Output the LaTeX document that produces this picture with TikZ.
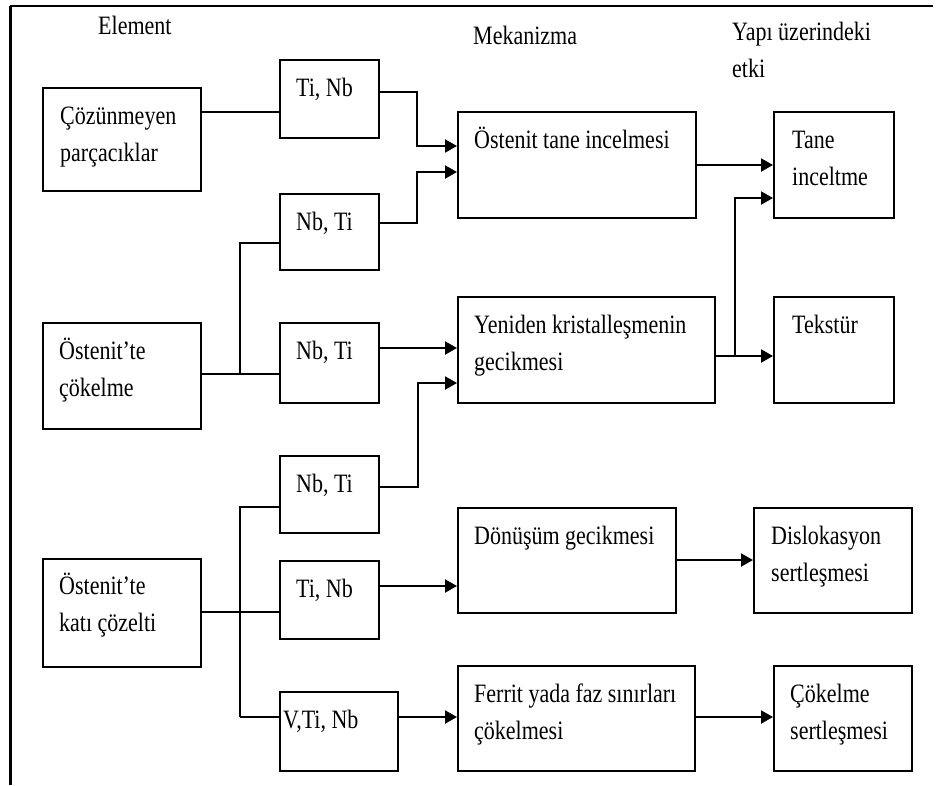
\documentclass[tikz,border=0pt]{standalone}
\usepackage{fontspec}
\setmainfont[FakeStretch=0.83]{Liberation Serif}
\usetikzlibrary{arrows.meta}
\tikzset{
  bx/.style={draw=black, line width=2.4pt, inner sep=0pt, anchor=north west},
  txt/.style={anchor=base west, align=left, inner sep=0pt, font=\fontsize{26.5}{37.5}\selectfont, text=black},
  ln/.style={draw=black, line width=2pt},
  ar/.style={ln, -{Triangle[length=12pt,width=13pt]}},
}
\newcommand{\mybox}[5]{\node[bx, minimum width=#4pt-#2pt, minimum height=#5pt-#3pt] (#1) at (#2,#3) {};}
\begin{document}
\begin{tikzpicture}[x=1pt,y=-1pt]
\useasboundingbox (0,0) rectangle (937,785);
\fill[white] (0,0) rectangle (937,785);
% frame
\coordinate (ftl) at (10,6);
\coordinate (ftr) at (933,6);
\coordinate (fbl) at (10,785);
\draw[black, line width=2.2pt] (ftl) -- (ftr);
\draw[black, line width=3pt] (ftl) -- (fbl);
% headers (base anchor = baseline of last line)
\node[txt] (hE) at (98,34) {Element};
\node[txt] (hM) at (473,44) {Mekanizma};
\node[txt] (hY) at (732,77.5) {Yapı üzerindeki\\etki};
% boxes
\mybox{A}{42}{87}{200}{190}
\mybox{B}{42}{322}{200}{428}
\mybox{C}{42}{558}{200}{666}
\mybox{E1}{279}{59}{378}{137}
\mybox{E2}{279}{193}{378}{269}
\mybox{E3}{279}{322}{378}{402}
\mybox{E4}{279}{455}{378}{532}
\mybox{E5}{279}{560}{378}{638}
\mybox{E6}{279}{691}{397}{770}
\mybox{M1}{457}{111}{695}{217}
\mybox{M2}{457}{296}{714}{402}
\mybox{M3}{457}{507}{675}{612}
\mybox{M4}{457}{665}{694}{770}
\mybox{S1}{773}{111}{893}{217}
\mybox{S2}{773}{296}{893}{402}
\mybox{S3}{753}{507}{911}{612}
\mybox{S4}{773}{665}{911}{770}
% texts
\node[txt] (tA) at (60,161.5) {Çözünmeyen\\parçacıklar};
\node[txt] (tB) at (59,396.5) {Östenit’te\\çökelme};
\node[txt] (tC) at (59,631.5) {Östenit’te\\katı çözelti};
\node[txt] (tE1) at (296,96) {Ti, Nb};
\node[txt] (tE2) at (296,230) {Nb, Ti};
\node[txt] (tE3) at (296,359) {Nb, Ti};
\node[txt] (tE4) at (296,492) {Nb, Ti};
\node[txt] (tE5) at (296,597) {Ti, Nb};
\node[txt] (tE6) at (283,728) {V,Ti, Nb};
\node[txt] (tM1) at (474,148) {Östenit tane incelmesi};
\node[txt] (tM2) at (474,370.5) {Yeniden kristalleşmenin\\gecikmesi};
\node[txt] (tM3) at (474,544) {Dönüşüm gecikmesi};
\node[txt] (tM4) at (474,739.5) {Ferrit yada faz sınırları\\çökelmesi};
\node[txt] (tS1) at (792,185.5) {Tane\\inceltme};
\node[txt] (tS2) at (792,333) {Tekstür};
\node[txt] (tS3) at (771,581.5) {Dislokasyon\\sertleşmesi};
\node[txt] (tS4) at (790,739.5) {Çökelme\\sertleşmesi};
% connectors: element column
\draw[ln] (A.east |- 0,112) -- (E1.west |- 0,112);
\draw[ln] (B.east |- 0,374) -- (E3.west |- 0,374);
\draw[ln] (240,374) |- (E2.west |- 0,243);
\draw[ln] (C.east |- 0,612) -- (E5.west |- 0,612);
\draw[ln] (240,717) |- (E4.west |- 0,507);
\draw[ln] (240,717) -- (E6.west |- 0,717);
% to mechanisms
\draw[ar] (E1.east |- 0,92) -| (417,146) -- (M1.west |- 0,146);
\draw[ar] (E2.east |- 0,223) -| (417,172) -- (M1.west |- 0,172);
\draw[ar] (E3.east |- 0,348) -- (M2.west |- 0,348);
\draw[ar] (E4.east |- 0,487) -| (418,383) -- (M2.west |- 0,383);
\draw[ar] (E5.east |- 0,586) -- (M3.west |- 0,586);
\draw[ar] (E6.east |- 0,717) -- (M4.west |- 0,717);
% to effects
\draw[ar] (M1.east |- 0,165) -- (S1.west |- 0,165);
\draw[ar] (M2.east |- 0,356) -- (S2.west |- 0,356);
\draw[ar] (735,356) |- (S1.west |- 0,198);
\draw[ar] (M3.east |- 0,560) -- (S3.west |- 0,560);
\draw[ar] (M4.east |- 0,717) -- (S4.west |- 0,717);
\end{tikzpicture}
\end{document}
